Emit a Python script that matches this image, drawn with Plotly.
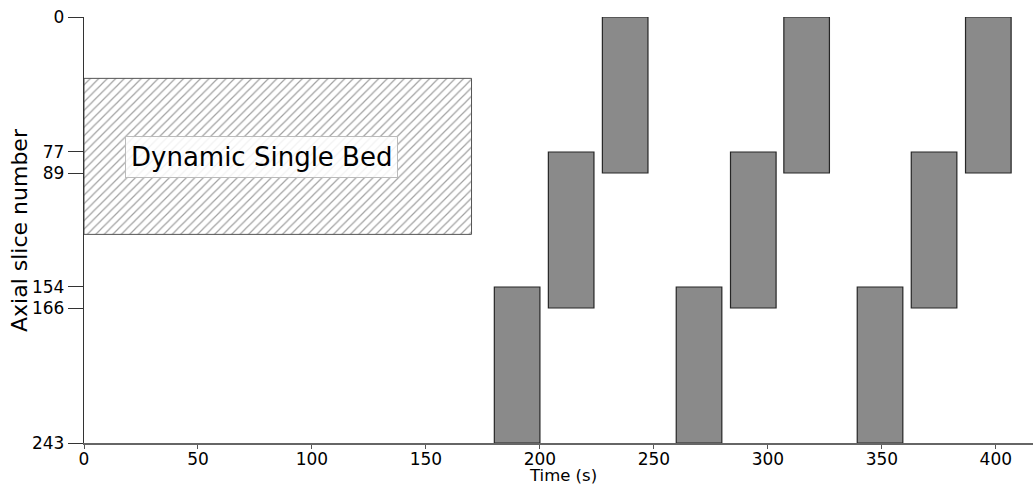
import plotly.graph_objects as go

# ---- data ----
bed_start_times = [180.0, 203.7, 227.4, 259.8, 283.6, 307.0, 339.2, 362.9, 386.7]
bed_duration = [20, 20, 20, 20, 20, 20, 20, 20, 20]
bed_first_slice = [154, 77, 0, 154, 77, 0, 154, 77, 0]
bed_last_slice = [243, 166, 89, 243, 166, 89, 243, 166, 89]

dynamic_start = 0
dynamic_end = 170
dynamic_first_slice = 35
dynamic_last_slice = 124
dynamic_label = "Dynamic Single Bed"

y_tick_vals = [0, 77, 89, 154, 166, 243]
x_tick_vals = [0, 50, 100, 150, 200, 250, 300, 350, 400]

FONT = "DejaVu Sans"

fig = go.Figure()

# hatched dynamic single bed region
fig.add_trace(go.Bar(
    x=[(dynamic_start + dynamic_end) / 2],
    width=[dynamic_end - dynamic_start],
    base=[dynamic_first_slice],
    y=[dynamic_last_slice - dynamic_first_slice],
    marker=dict(
        color="white",
        line=dict(color="#555555", width=1),
        pattern=dict(shape="/", fgcolor="#444444", bgcolor="white",
                     size=6, solidity=0.2, fillmode="overlay"),
    ),
    showlegend=False, hoverinfo="skip",
))

# multi-bed passes
fig.add_trace(go.Bar(
    x=[s + d / 2 for s, d in zip(bed_start_times, bed_duration)],
    width=bed_duration,
    base=bed_first_slice,
    y=[l - f for f, l in zip(bed_first_slice, bed_last_slice)],
    marker=dict(color="#8a8a8a", line=dict(color="#262626", width=1.2)),
    showlegend=False,
))

fig.add_annotation(
    x=78, y=80, xref="x", yref="y", text=dynamic_label, showarrow=False,
    font=dict(family=FONT, size=26, color="black"),
    bgcolor="rgba(255,255,255,0.85)", bordercolor="#bbbbbb", borderwidth=1,
    borderpad=5,
)

# axis titles
fig.add_annotation(
    x=0, y=0.5, xref="paper", yref="paper", text="Axial slice number",
    showarrow=False, textangle=-90, xanchor="center", yanchor="middle",
    xshift=-65, font=dict(family=FONT, size=22, color="black"),
)
fig.add_annotation(
    x=0.5047, y=0, xref="paper", yref="paper", text="Time (s)",
    showarrow=False, xanchor="center", yanchor="middle",
    yshift=-32, font=dict(family=FONT, size=16.5, color="black"),
)

fig.update_layout(
    width=1033, height=485,
    margin=dict(l=84, r=0, t=17, b=42),
    paper_bgcolor="white", plot_bgcolor="white",
    barmode="overlay",
    font=dict(family=FONT, color="black"),
    xaxis=dict(
        range=[0, 416.3], tickvals=x_tick_vals, automargin=False,
        ticks="outside", ticklen=4, tickcolor="#555555",
        showline=True, linecolor="#666666", linewidth=1.6,
        showgrid=False, zeroline=False, ticklabelstandoff=-4,
        tickfont=dict(size=17, family=FONT),
    ),
    yaxis=dict(
        range=[243, 0], tickvals=y_tick_vals, automargin=False,
        ticks="outside", ticklen=15, tickcolor="#333333", tickwidth=1.2,
        showline=True, linecolor="#333333", linewidth=1.3,
        showgrid=False, zeroline=False,
        tickfont=dict(size=17, family=FONT),
    ),
)

fig.write_html(
    "out.html",
    config={"displayModeBar": False},
    post_script="document.body.style.margin='0';document.body.style.overflow='hidden';",
)
